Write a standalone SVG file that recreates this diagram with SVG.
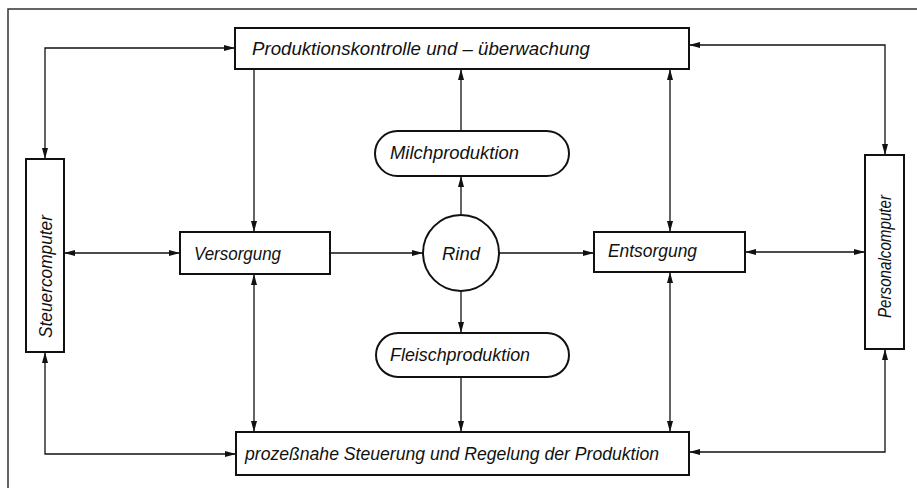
<svg xmlns="http://www.w3.org/2000/svg" width="917" height="488" viewBox="0 0 917 488">
<style>
.box{fill:#fff;stroke:#111;stroke-width:2}
.con{fill:none;stroke:#111;stroke-width:1.3}
.frame{fill:none;stroke:#333;stroke-width:1.5}
text{font-family:"Liberation Sans","DejaVu Sans",sans-serif;font-style:italic;font-size:18px;fill:#111}
</style>
<defs>
<marker id="ah" viewBox="0 0 11 6" refX="11" refY="3" markerWidth="11" markerHeight="6" markerUnits="userSpaceOnUse" orient="auto-start-reverse">
<path d="M0,0 L11,3 L0,6 z" fill="#111"/>
</marker>
</defs>
<rect width="917" height="488" fill="#fff"/>
<path class="frame" d="M8,488 V9 H917"/>
<g id="connectors">
<path class="con" d="M45,159 V48 H235" marker-start="url(#ah)" marker-end="url(#ah)"/>
<path class="con" d="M689,45 H885 V155" marker-start="url(#ah)" marker-end="url(#ah)"/>
<path class="con" d="M254,69 V232" marker-end="url(#ah)"/>
<path class="con" d="M461,131 V69" marker-end="url(#ah)"/>
<path class="con" d="M461,215 V176" marker-end="url(#ah)"/>
<path class="con" d="M461,291 V333" marker-end="url(#ah)"/>
<path class="con" d="M461,377 V432" marker-end="url(#ah)"/>
<path class="con" d="M64,253 H180" marker-start="url(#ah)" marker-end="url(#ah)"/>
<path class="con" d="M330,253 H423" marker-end="url(#ah)"/>
<path class="con" d="M499,253 H594" marker-end="url(#ah)"/>
<path class="con" d="M745,252 H865" marker-start="url(#ah)" marker-end="url(#ah)"/>
<path class="con" d="M254,274 V432" marker-start="url(#ah)" marker-end="url(#ah)"/>
<path class="con" d="M670,69 V232" marker-start="url(#ah)" marker-end="url(#ah)"/>
<path class="con" d="M670,272 V432" marker-start="url(#ah)" marker-end="url(#ah)"/>
<path class="con" d="M45,352 V454 H236" marker-start="url(#ah)" marker-end="url(#ah)"/>
<path class="con" d="M885,349 V452 H689" marker-start="url(#ah)" marker-end="url(#ah)"/>
</g>
<g id="kontrolle">
<rect class="box" x="235" y="28" width="454" height="41"/>
<text x="252" y="55" textLength="338" lengthAdjust="spacingAndGlyphs">Produktionskontrolle und – überwachung</text>
</g>
<g id="steuercomputer">
<rect class="box" x="26" y="159" width="38" height="193"/>
<text transform="translate(52,338) rotate(-90)" textLength="123" lengthAdjust="spacingAndGlyphs">Steuercomputer</text>
</g>
<g id="personalcomputer">
<rect class="box" x="865" y="155" width="39" height="194"/>
<text transform="translate(891,318) rotate(-90)" textLength="123" lengthAdjust="spacingAndGlyphs">Personalcomputer</text>
</g>
<g id="milchproduktion">
<rect class="box" x="375" y="131" width="194" height="45" rx="22.5"/>
<text x="390" y="159" textLength="129" lengthAdjust="spacingAndGlyphs">Milchproduktion</text>
</g>
<g id="versorgung">
<rect class="box" x="180" y="232" width="150" height="42"/>
<text x="194" y="260" textLength="87" lengthAdjust="spacingAndGlyphs">Versorgung</text>
</g>
<g id="rind">
<circle class="box" cx="461" cy="253" r="38"/>
<text x="442" y="260" textLength="38" lengthAdjust="spacingAndGlyphs">Rind</text>
</g>
<g id="entsorgung">
<rect class="box" x="594" y="232" width="151" height="40"/>
<text x="608" y="257" textLength="89" lengthAdjust="spacingAndGlyphs">Entsorgung</text>
</g>
<g id="fleischproduktion">
<rect class="box" x="376" y="333" width="193" height="44" rx="22"/>
<text x="390" y="361" textLength="140" lengthAdjust="spacingAndGlyphs">Fleischproduktion</text>
</g>
<g id="steuerung">
<rect class="box" x="236" y="432" width="453" height="43"/>
<text x="245" y="460" textLength="414" lengthAdjust="spacingAndGlyphs">prozeßnahe Steuerung und Regelung der Produktion</text>
</g>
</svg>
